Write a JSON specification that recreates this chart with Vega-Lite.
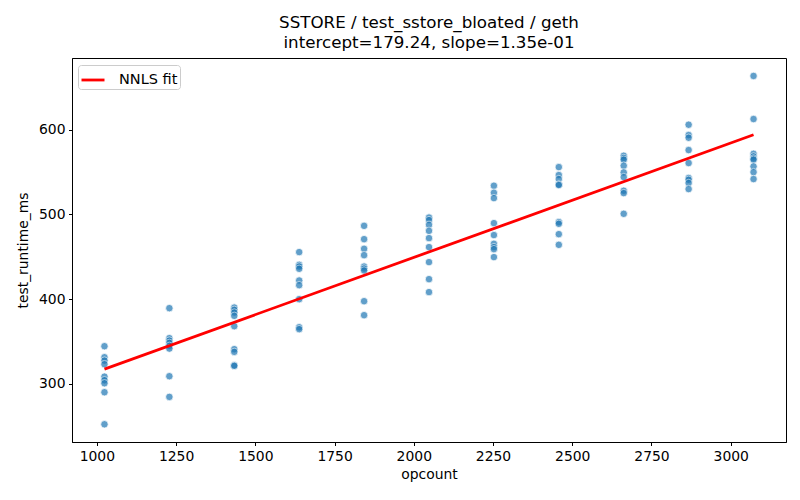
{
  "$schema": "https://vega.github.io/schema/vega-lite/v6.json",
  "width": 714,
  "height": 384,
  "autosize": {"type": "none"},
  "padding": {"left": 72, "top": 58, "right": 14, "bottom": 58},
  "background": "white",
  "title": {
    "text": ["SSTORE / test_sstore_bloated / geth", "intercept=179.24, slope=1.35e-01"],
    "font": "DejaVu Sans",
    "fontSize": 16.7,
    "fontWeight": "normal",
    "color": "black",
    "anchor": "middle",
    "frame": "group",
    "lineHeight": 20,
    "offset": 6
  },
  "config": {
    "font": "DejaVu Sans",
    "view": {"stroke": "black", "strokeWidth": 1},
    "axis": {
      "grid": false,
      "domainColor": "black",
      "tickColor": "black",
      "tickSize": 3.5,
      "labelFontSize": 13.9,
      "labelColor": "black",
      "labelPadding": 3.5,
      "titleFontSize": 13.9,
      "titleFontWeight": "normal",
      "titleColor": "black"
    }
  },
  "datasets": {
    "pts": [
      {"opcount": 1024, "test_runtime_ms": 344.5},
      {"opcount": 1024, "test_runtime_ms": 331.5},
      {"opcount": 1024, "test_runtime_ms": 327.5},
      {"opcount": 1024, "test_runtime_ms": 323.3},
      {"opcount": 1024, "test_runtime_ms": 308.6},
      {"opcount": 1024, "test_runtime_ms": 304.4},
      {"opcount": 1024, "test_runtime_ms": 300.8},
      {"opcount": 1024, "test_runtime_ms": 290.2},
      {"opcount": 1024, "test_runtime_ms": 252.4},
      {"opcount": 1228.8, "test_runtime_ms": 389.4},
      {"opcount": 1228.8, "test_runtime_ms": 354.0},
      {"opcount": 1228.8, "test_runtime_ms": 351.1},
      {"opcount": 1228.8, "test_runtime_ms": 348.4},
      {"opcount": 1228.8, "test_runtime_ms": 344.9},
      {"opcount": 1228.8, "test_runtime_ms": 341.7},
      {"opcount": 1228.8, "test_runtime_ms": 309.1},
      {"opcount": 1228.8, "test_runtime_ms": 284.7},
      {"opcount": 1433.6, "test_runtime_ms": 390.1},
      {"opcount": 1433.6, "test_runtime_ms": 387.4},
      {"opcount": 1433.6, "test_runtime_ms": 384.2},
      {"opcount": 1433.6, "test_runtime_ms": 380.3},
      {"opcount": 1433.6, "test_runtime_ms": 368.1},
      {"opcount": 1433.6, "test_runtime_ms": 341.0},
      {"opcount": 1433.6, "test_runtime_ms": 337.8},
      {"opcount": 1433.6, "test_runtime_ms": 322.1},
      {"opcount": 1433.6, "test_runtime_ms": 321.3},
      {"opcount": 1638.4, "test_runtime_ms": 455.5},
      {"opcount": 1638.4, "test_runtime_ms": 440.5},
      {"opcount": 1638.4, "test_runtime_ms": 438.5},
      {"opcount": 1638.4, "test_runtime_ms": 435.8},
      {"opcount": 1638.4, "test_runtime_ms": 422.0},
      {"opcount": 1638.4, "test_runtime_ms": 416.5},
      {"opcount": 1638.4, "test_runtime_ms": 400.0},
      {"opcount": 1638.4, "test_runtime_ms": 366.9},
      {"opcount": 1638.4, "test_runtime_ms": 364.6},
      {"opcount": 1843.2, "test_runtime_ms": 486.5},
      {"opcount": 1843.2, "test_runtime_ms": 470.8},
      {"opcount": 1843.2, "test_runtime_ms": 459.4},
      {"opcount": 1843.2, "test_runtime_ms": 451.9},
      {"opcount": 1843.2, "test_runtime_ms": 438.5},
      {"opcount": 1843.2, "test_runtime_ms": 436.1},
      {"opcount": 1843.2, "test_runtime_ms": 433.8},
      {"opcount": 1843.2, "test_runtime_ms": 397.6},
      {"opcount": 1843.2, "test_runtime_ms": 381.1},
      {"opcount": 2048, "test_runtime_ms": 496.3},
      {"opcount": 2048, "test_runtime_ms": 493.3},
      {"opcount": 2048, "test_runtime_ms": 487.7},
      {"opcount": 2048, "test_runtime_ms": 480.6},
      {"opcount": 2048, "test_runtime_ms": 472.0},
      {"opcount": 2048, "test_runtime_ms": 461.4},
      {"opcount": 2048, "test_runtime_ms": 443.7},
      {"opcount": 2048, "test_runtime_ms": 423.6},
      {"opcount": 2048, "test_runtime_ms": 408.3},
      {"opcount": 2252.8, "test_runtime_ms": 533.8},
      {"opcount": 2252.8, "test_runtime_ms": 525.5},
      {"opcount": 2252.8, "test_runtime_ms": 519.2},
      {"opcount": 2252.8, "test_runtime_ms": 489.7},
      {"opcount": 2252.8, "test_runtime_ms": 475.6},
      {"opcount": 2252.8, "test_runtime_ms": 465.3},
      {"opcount": 2252.8, "test_runtime_ms": 461.4},
      {"opcount": 2252.8, "test_runtime_ms": 459.0},
      {"opcount": 2252.8, "test_runtime_ms": 449.6},
      {"opcount": 2457.6, "test_runtime_ms": 555.8},
      {"opcount": 2457.6, "test_runtime_ms": 546.4},
      {"opcount": 2457.6, "test_runtime_ms": 541.7},
      {"opcount": 2457.6, "test_runtime_ms": 535.3},
      {"opcount": 2457.6, "test_runtime_ms": 534.6},
      {"opcount": 2457.6, "test_runtime_ms": 490.9},
      {"opcount": 2457.6, "test_runtime_ms": 488.9},
      {"opcount": 2457.6, "test_runtime_ms": 476.7},
      {"opcount": 2457.6, "test_runtime_ms": 464.1},
      {"opcount": 2662.4, "test_runtime_ms": 569.2},
      {"opcount": 2662.4, "test_runtime_ms": 566.5},
      {"opcount": 2662.4, "test_runtime_ms": 564.5},
      {"opcount": 2662.4, "test_runtime_ms": 557.4},
      {"opcount": 2662.4, "test_runtime_ms": 549.5},
      {"opcount": 2662.4, "test_runtime_ms": 544.0},
      {"opcount": 2662.4, "test_runtime_ms": 527.9},
      {"opcount": 2662.4, "test_runtime_ms": 525.1},
      {"opcount": 2662.4, "test_runtime_ms": 500.7},
      {"opcount": 2867.2, "test_runtime_ms": 605.8},
      {"opcount": 2867.2, "test_runtime_ms": 593.6},
      {"opcount": 2867.2, "test_runtime_ms": 590.4},
      {"opcount": 2867.2, "test_runtime_ms": 575.9},
      {"opcount": 2867.2, "test_runtime_ms": 560.6},
      {"opcount": 2867.2, "test_runtime_ms": 542.9},
      {"opcount": 2867.2, "test_runtime_ms": 540.8},
      {"opcount": 2867.2, "test_runtime_ms": 537.0},
      {"opcount": 2867.2, "test_runtime_ms": 529.9},
      {"opcount": 3072, "test_runtime_ms": 663.3},
      {"opcount": 3072, "test_runtime_ms": 612.5},
      {"opcount": 3072, "test_runtime_ms": 571.5},
      {"opcount": 3072, "test_runtime_ms": 568.4},
      {"opcount": 3072, "test_runtime_ms": 566.0},
      {"opcount": 3072, "test_runtime_ms": 564.5},
      {"opcount": 3072, "test_runtime_ms": 556.6},
      {"opcount": 3072, "test_runtime_ms": 549.9},
      {"opcount": 3072, "test_runtime_ms": 541.7}
    ],
    "fit": [
      {"opcount": 1024, "test_runtime_ms": 317.48, "series": "NNLS fit"},
      {"opcount": 3072, "test_runtime_ms": 593.96, "series": "NNLS fit"}
    ]
  },
  "layer": [
    {
      "data": {"name": "pts"},
      "mark": {"type": "point", "filled": true, "color": "#1f77b4", "opacity": 0.7, "stroke": "white", "strokeWidth": 0.75, "size": 56},
      "encoding": {
        "x": {"field": "opcount", "type": "quantitative", "scale": {"domain": [921.6, 3174.4], "nice": false, "zero": false},
              "axis": {"values": [1000, 1250, 1500, 1750, 2000, 2250, 2500, 2750, 3000], "format": "d", "title": "opcount", "titlePadding": 5}},
        "y": {"field": "test_runtime_ms", "type": "quantitative", "scale": {"domain": [231.5, 684.5], "nice": false, "zero": false},
              "axis": {"values": [300, 400, 500, 600], "format": "d", "title": "test_runtime_ms", "titlePadding": 8}}
      }
    },
    {
      "data": {"name": "fit"},
      "mark": {"type": "line", "strokeWidth": 2.8},
      "encoding": {
        "x": {"field": "opcount", "type": "quantitative"},
        "y": {"field": "test_runtime_ms", "type": "quantitative"},
        "color": {"field": "series", "type": "nominal", "scale": {"domain": ["NNLS fit"], "range": ["red"]},
          "legend": {"title": null, "orient": "none", "legendX": 6, "legendY": 7, "symbolType": "stroke", "symbolSize": 529,
                     "symbolStrokeWidth": 2.8, "labelFontSize": 14.5, "labelColor": "black", "fillColor": "white",
                     "strokeColor": "#cccccc", "cornerRadius": 3, "padding": 2, "labelOffset": 13, "offset": 0}}
      }
    }
  ]
}
